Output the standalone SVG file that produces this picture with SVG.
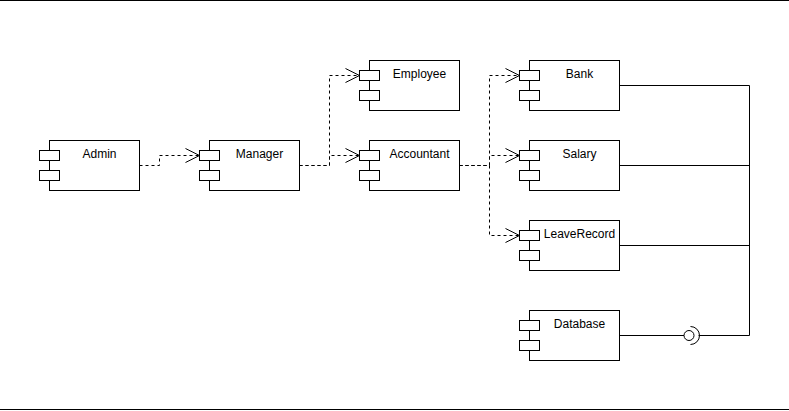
<svg xmlns="http://www.w3.org/2000/svg" width="789" height="411" viewBox="0 0 789 411">
<defs>
<style>
.body{fill:#fff;stroke:#000;stroke-width:1}
.port{fill:#fff;stroke:#000;stroke-width:1}
.lbl{font-family:"Liberation Sans",Arial,sans-serif;font-size:12px;fill:#000;text-anchor:middle}
.dep{fill:none;stroke:#000;stroke-width:1;stroke-dasharray:3 3}
.sol{fill:none;stroke:#000;stroke-width:1}
</style>
<marker id="open" markerUnits="userSpaceOnUse" markerWidth="16" markerHeight="16" refX="14" refY="7" orient="auto" overflow="visible">
<path d="M0,0 L14,7 L0,14" fill="none" stroke="#000" stroke-width="1" stroke-dasharray="none"/>
</marker>
</defs>
<rect width="789" height="411" fill="#fff"/>
<line x1="0" y1="0.5" x2="789" y2="0.5" stroke="#000" stroke-width="1"/>
<line x1="0" y1="409.5" x2="789" y2="409.5" stroke="#000" stroke-width="1"/>
<g id="connectors">
<path class="dep" d="M139.5,165.5 H159.5 V155.5 H199.5" marker-end="url(#open)"/>
<path class="dep" d="M299.5,165.5 H329.5 V75.5 H359.5" marker-end="url(#open)"/>
<path class="dep" d="M299.5,165.5 H329.5 V155.5 H359.5" marker-end="url(#open)"/>
<path class="dep" d="M459.5,165.5 H489.5 V75.5 H519.5" marker-end="url(#open)"/>
<path class="dep" d="M459.5,165.5 H489.5 V155.5 H519.5" marker-end="url(#open)"/>
<path class="dep" d="M459.5,165.5 H489.5 V235.5 H519.5" marker-end="url(#open)"/>
<path class="sol" d="M619.5,85.5 H749.5 V335.5 H698.5"/>
<path class="sol" d="M619.5,165.5 H749.5"/>
<path class="sol" d="M619.5,245.5 H749.5"/>
<path class="sol" d="M619.5,335.5 H684"/>
<circle cx="689" cy="335.5" r="5" fill="#fff" stroke="#000" stroke-width="1"/>
<path class="sol" d="M690.5,326.5 A9,9 0 0 1 690.5,344.5"/>
</g>
<g id="admin">
<rect class="body" x="49.5" y="140.5" width="90" height="50"/>
<rect class="port" x="39.5" y="150.5" width="20" height="10"/>
<rect class="port" x="39.5" y="170.5" width="20" height="10"/>
<text class="lbl" x="99.5" y="157.5">Admin</text>
</g>
<g id="manager">
<rect class="body" x="209.5" y="140.5" width="90" height="50"/>
<rect class="port" x="199.5" y="150.5" width="20" height="10"/>
<rect class="port" x="199.5" y="170.5" width="20" height="10"/>
<text class="lbl" x="259.5" y="157.5">Manager</text>
</g>
<g id="employee">
<rect class="body" x="369.5" y="60.5" width="90" height="50"/>
<rect class="port" x="359.5" y="70.5" width="20" height="10"/>
<rect class="port" x="359.5" y="90.5" width="20" height="10"/>
<text class="lbl" x="419.5" y="77.5">Employee</text>
</g>
<g id="accountant">
<rect class="body" x="369.5" y="140.5" width="90" height="50"/>
<rect class="port" x="359.5" y="150.5" width="20" height="10"/>
<rect class="port" x="359.5" y="170.5" width="20" height="10"/>
<text class="lbl" x="419.5" y="157.5">Accountant</text>
</g>
<g id="bank">
<rect class="body" x="529.5" y="60.5" width="90" height="50"/>
<rect class="port" x="519.5" y="70.5" width="20" height="10"/>
<rect class="port" x="519.5" y="90.5" width="20" height="10"/>
<text class="lbl" x="579.5" y="77.5">Bank</text>
</g>
<g id="salary">
<rect class="body" x="529.5" y="140.5" width="90" height="50"/>
<rect class="port" x="519.5" y="150.5" width="20" height="10"/>
<rect class="port" x="519.5" y="170.5" width="20" height="10"/>
<text class="lbl" x="579.5" y="157.5">Salary</text>
</g>
<g id="leaverecord">
<rect class="body" x="529.5" y="220.5" width="90" height="50"/>
<rect class="port" x="519.5" y="230.5" width="20" height="10"/>
<rect class="port" x="519.5" y="250.5" width="20" height="10"/>
<text class="lbl" x="579.5" y="237.5">LeaveRecord</text>
</g>
<g id="database">
<rect class="body" x="529.5" y="310.5" width="90" height="50"/>
<rect class="port" x="519.5" y="320.5" width="20" height="10"/>
<rect class="port" x="519.5" y="340.5" width="20" height="10"/>
<text class="lbl" x="579.5" y="327.5">Database</text>
</g>
</svg>
